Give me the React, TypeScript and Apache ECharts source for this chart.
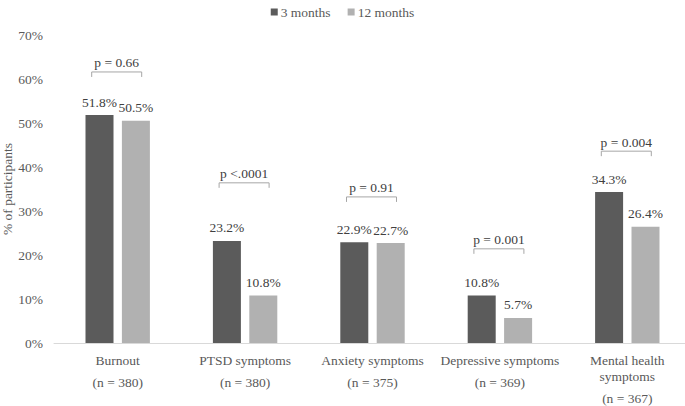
import React, { useEffect, useRef } from "react";
import * as echarts from "echarts";

const categories = [
  "Burnout\n(n = 380)",
  "PTSD symptoms\n(n = 380)",
  "Anxiety symptoms\n(n = 375)",
  "Depressive symptoms\n(n = 369)",
  "Mental health\nsymptoms\n(n = 367)",
];
const months3 = [51.8, 23.2, 22.9, 10.8, 34.3];
const months12 = [50.5, 10.8, 22.7, 5.7, 26.4];
const pLabels = ["p = 0.66", "p <.0001", "p = 0.91", "p = 0.001", "p = 0.004"];
const bracketLevels = [61.6, 36.4, 33.2, 21.4, 43.6];
const yTicks = [0, 10, 20, 30, 40, 50, 60, 70];

const FONT = "'Liberation Serif', 'Times New Roman', serif";
const TXT = "#595959";

export default function App() {
  const ref = useRef<HTMLDivElement>(null);
  useEffect(() => {
    document.body.style.margin = "0";
    const chart = echarts.init(ref.current!, undefined, { renderer: "svg" });
    const fmtCat = (v: string) => {
      const lines = v.split("\n");
      if (lines.length === 3) {
        return `{a|${lines[0]}}\n{m|${lines[1]}}\n{c|${lines[2]}}`;
      }
      return lines.map((l) => `{b|${l}}`).join("\n");
    };
    chart.setOption({
      animation: false,
      textStyle: { fontFamily: FONT },
      legend: {
        top: 0,
        left: "center",
        itemWidth: 7,
        itemHeight: 7,
        itemGap: 17,
        icon: "rect",
        textStyle: { fontFamily: FONT, fontSize: 13.5, color: TXT, padding: [0, 0, 0, -2] },
        data: ["3 months", "12 months"],
      },
      grid: {
        left: 54,
        right: -6,
        top: 35,
        bottom: 63,
        containLabel: false,
        outerBoundsMode: "none",
      },
      xAxis: {
        type: "category",
        data: categories,
        axisLine: { lineStyle: { color: "#d9d9d9", width: 1 } },
        axisTick: { show: false },
        axisLabel: {
          interval: 0,
          margin: 6,
          color: TXT,
          fontFamily: FONT,
          fontSize: 13.5,
          formatter: fmtCat,
          rich: {
            a: { fontFamily: FONT, fontSize: 13.5, color: TXT, lineHeight: 22 },
            m: { fontFamily: FONT, fontSize: 13.5, color: TXT, lineHeight: 10 },
            c: { fontFamily: FONT, fontSize: 13.5, color: TXT, lineHeight: 34 },
            b: { fontFamily: FONT, fontSize: 13.5, color: TXT, lineHeight: 22 },
          },
        },
      },
      yAxis: {
        type: "value",
        min: yTicks[0],
        max: yTicks[yTicks.length - 1],
        interval: 10,
        name: "% of participants",
        nameLocation: "middle",
        nameGap: 40,
        nameMoveOverlap: false,
        nameTextStyle: { fontFamily: FONT, fontSize: 13.5, color: TXT },
        splitLine: { show: false },
        axisLine: { show: false },
        axisTick: { show: false },
        axisLabel: {
          color: TXT,
          fontFamily: FONT,
          fontSize: 13.5,
          margin: 11,
          formatter: (v: number) => `${v}%`,
        },
      },
      series: [
        {
          name: "3 months",
          type: "bar",
          data: months3,
          barWidth: 28,
          barGap: "30%",
          itemStyle: { color: "#5b5b5b" },
          label: {
            show: true,
            position: "top",
            distance: 6,
            color: "#404040",
            fontFamily: FONT,
            fontSize: 13.5,
            formatter: (p: any) => `${p.value.toFixed(1)}%`,
          },
        },
        {
          name: "12 months",
          type: "bar",
          data: months12,
          barWidth: 28,
          barGap: "30%",
          itemStyle: { color: "#b1b1b1" },
          label: {
            show: true,
            position: "top",
            distance: 6,
            color: "#404040",
            fontFamily: FONT,
            fontSize: 13.5,
            formatter: (p: any) => `${p.value.toFixed(1)}%`,
          },
        },
        {
          type: "custom",
          name: "brackets",
          silent: true,
          data: bracketLevels.map((v, i) => [i, v]),
          renderItem: (params: any, api: any) => {
            const idx = api.value(0);
            const c = api.coord([idx, api.value(1)]);
            const cx = c[0] - 1;
            const cy = c[1];
            const hw = 25;
            return {
              type: "group",
              children: [
                {
                  type: "polyline",
                  shape: {
                    points: [
                      [cx - hw, cy + 5],
                      [cx - hw, cy],
                      [cx + hw, cy],
                      [cx + hw, cy + 5],
                    ],
                  },
                  style: { stroke: "#a6a6a6", lineWidth: 1, fill: null },
                },
                {
                  type: "text",
                  x: cx,
                  y: cy - 9,
                  style: {
                    text: pLabels[idx],
                    fontFamily: FONT,
                    fontSize: 13.5,
                    fill: "#404040",
                    align: "center",
                    verticalAlign: "middle",
                  },
                },
              ],
            };
          },
        },
      ],
    });
    return () => chart.dispose();
  }, []);
  return <div ref={ref} style={{ width: 685, height: 406 }} />;
}
